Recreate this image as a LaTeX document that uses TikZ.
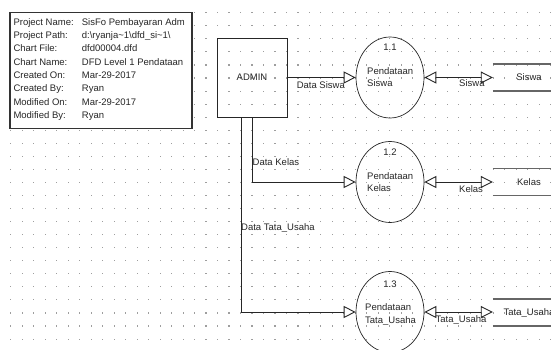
\documentclass[tikz,border=0pt]{standalone}
\usepackage{fontspec}
\setmainfont{Liberation Sans}
\usetikzlibrary{arrows.meta,shapes.geometric}
\begin{document}
\begin{tikzpicture}[x=1pt,y=-1pt,
  every node/.style={font=\fontsize{9.5}{11}\selectfont, inner sep=0pt, text=black!85},
  txt/.style={text height=7pt, text depth=2pt},
  dotc/.style={fill=black!38},
  infobox/.style={draw=black!80, line width=1.2pt, fill=white, rectangle, minimum width=182, minimum height=116},
  entity/.style={draw=black!85, line width=0.9pt, rectangle, minimum width=70, minimum height=79},
  proc/.style={draw=black!85, line width=0.7pt, ellipse, minimum width=68, minimum height=81},
  store/.style={rectangle, minimum width=72, minimum height=27},
  storeline/.style={draw=black!60, line width=1.5pt},
  tip/.style={Triangle[open,length=12pt,width=12pt]},
  flow/.style={draw=black!85, line width=0.9pt, -{Triangle[open,length=12pt,width=12pt]}},
  flowboth/.style={draw=black!85, line width=0.9pt, {Triangle[open,length=12pt,width=12pt]}-{Triangle[open,length=12pt,width=12pt]}},
]
\useasboundingbox (0,0) rectangle (551,350);
\fill[white] (0,0) rectangle (551,350);
% dot grid
\foreach \i in {0,...,47}{
  \foreach \j in {-11,...,15}{
    \fill[dotc] ({10.7+\i*11.49-0.55},{143.3+\j*13.05-0.55}) rectangle ++(1.1,1.1);
  }
}
% info box
\node[infobox] (info) at (101,70.5) {};
\node[txt,anchor=west] (l1) at (13.3,22.7) {Project Name:};
\node[txt,anchor=west] (l2) at (13.3,36.0) {Project Path:};
\node[txt,anchor=west] (l3) at (13.3,49.4) {Chart File:};
\node[txt,anchor=west] (l4) at (13.3,62.7) {Chart Name:};
\node[txt,anchor=west] (l5) at (13.3,76.0) {Created On:};
\node[txt,anchor=west] (l6) at (13.3,89.4) {Created By:};
\node[txt,anchor=west] (l7) at (13.3,102.7) {Modified On:};
\node[txt,anchor=west] (l8) at (13.3,116.0) {Modified By:};
\node[txt,anchor=west] (v1) at (81.7,22.7) {SisFo Pembayaran Adm};
\node[txt,anchor=west] (v2) at (81.7,36.0) {d:\textbackslash ryanja\textasciitilde 1\textbackslash dfd\_si\textasciitilde 1\textbackslash};
\node[txt,anchor=west] (v3) at (81.7,49.4) {dfd00004.dfd};
\node[txt,anchor=west] (v4) at (81.7,62.7) {DFD Level 1 Pendataan};
\node[txt,anchor=west] (v5) at (81.7,76.0) {Mar-29-2017};
\node[txt,anchor=west] (v6) at (81.7,89.4) {Ryan};
\node[txt,anchor=west] (v7) at (81.7,102.7) {Mar-29-2017};
\node[txt,anchor=west] (v8) at (81.7,116.0) {Ryan};
% entity
\node[entity] (admin) at (252,77.5) {ADMIN};
% processes
\node[proc] (p1) at (390,77.5) {};
\node[proc] (p2) at (390,182) {};
\node[proc] (p3) at (390,312) {};
\node[txt] (n1) at (390,48.3) {1.1};
\node[txt,anchor=west] (t1a) at (367,71.7) {Pendataan};
\node[txt,anchor=west] (t1b) at (367,84) {Siswa};
\node[txt] (n2) at (390,153) {1.2};
\node[txt,anchor=west] (t2a) at (367,176.7) {Pendataan};
\node[txt,anchor=west] (t2b) at (367,189) {Kelas};
\node[txt] (n3) at (390,285) {1.3};
\node[txt,anchor=west] (t3a) at (365,308) {Pendataan};
\node[txt,anchor=west] (t3b) at (365,320.7) {Tata\_Usaha};
% stores
\node[store] (s1) at (529,77.5) {Siswa};
\node[store] (s2) at (529,182) {Kelas};
\node[store] (s3) at (529,312.5) {Tata\_Usaha};
\foreach \s in {s1,s2,s3}{
  \draw[storeline] (\s.north west) -- (\s.north east) (\s.south west) -- (\s.south east);
}
% flows
\draw[flow] (admin) -- (p1);
\draw[flow] (admin.south) |- (p2);
\draw[flow] ([xshift=-11pt]admin.south) |- (p3);
\draw[flowboth] (p1) -- (s1);
\draw[flowboth] (p2) -- (s2);
\draw[flowboth] (p3) -- (p3 -| s3.west);
% labels
\node[txt,anchor=east] (f1) at (345,86) {Data Siswa};
\node[txt,anchor=west] (f2) at (252.5,163) {Data Kelas};
\node[txt,anchor=west] (f3) at (241,228.3) {Data Tata\_Usaha};
\node[txt,anchor=west] (g1) at (459,84.5) {Siswa};
\node[txt,anchor=west] (g2) at (459,189.5) {Kelas};
\node[txt,anchor=west] (g3) at (435.5,320) {Tata\_Usaha};
\end{tikzpicture}
\end{document}
